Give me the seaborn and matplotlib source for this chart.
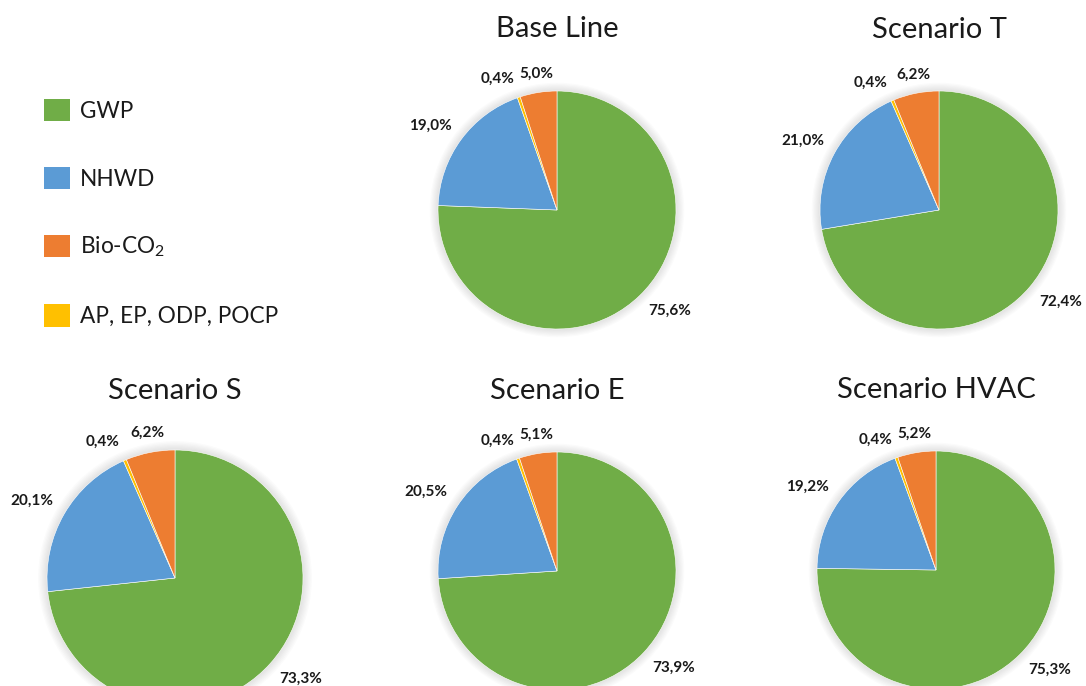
import matplotlib
matplotlib.use("Agg")
import matplotlib.pyplot as plt
from matplotlib.patches import Patch, Circle
import seaborn as sns

# Impact categories, listed clockwise from 12 o'clock in every pie
categories = ["GWP", "NHWD", "AP, EP, ODP, POCP", "Bio-CO2"]
legend_order = ["GWP", "NHWD", "Bio-CO2", "AP, EP, ODP, POCP"]
legend_texts = ["GWP", "NHWD", r"Bio-CO$_{\mathrm{2}}$", "AP, EP, ODP, POCP"]

scenarios = ["Base Line", "Scenario T", "Scenario S", "Scenario E", "Scenario HVAC"]
base_line = [75.6, 19.0, 0.4, 5.0]
scenario_t = [72.4, 21.0, 0.4, 6.2]
scenario_s = [73.3, 20.1, 0.4, 6.2]
scenario_e = [73.9, 20.5, 0.4, 5.1]
scenario_hvac = [75.3, 19.2, 0.4, 5.2]
shares = [base_line, scenario_t, scenario_s, scenario_e, scenario_hvac]

colors = {"GWP": "#70AD47", "NHWD": "#5B9BD5",
          "AP, EP, ODP, POCP": "#FFC000", "Bio-CO2": "#ED7D31"}

sns.set_theme(style="white")
plt.rcParams["font.family"] = ["Lato", "DejaVu Sans"]
plt.rcParams["mathtext.fontset"] = "custom"
plt.rcParams["mathtext.rm"] = "Lato"

W, H = 1086, 686
fig = plt.figure(figsize=(W / 100, H / 100), dpi=100)
fig.patch.set_facecolor("white")

# pie placement in pixels: (center x, center y from top, radius, title baseline y)
layout = [
    (557, 210, 119, 37),
    (939, 210, 119, 38),
    (175, 578, 128, 399),
    (557, 571, 119, 399),
    (936, 570, 119, 398),
]

K = 1.7  # half-size of each axes box in pie radii


def fmt(v):
    return f"{v:.1f}".replace(".", ",") + "%"


for name, vals, (cx, cy, r, ty) in zip(scenarios, shares, layout):
    half = K * r
    ax = fig.add_axes([(cx - half) / W, 1 - (cy + half) / H, 2 * half / W, 2 * half / H])

    # soft glow behind the disc
    for i in range(7):
        ax.add_patch(Circle((0, 0), 1 + 0.010 * (i + 1), facecolor="black",
                            edgecolor="none", alpha=0.014, zorder=0))

    wedges, texts = ax.pie(
        vals, colors=[colors[c] for c in categories], startangle=90,
        counterclock=False, radius=1, labels=[fmt(v) for v in vals],
        labeldistance=1.1, wedgeprops=dict(linewidth=0.4, edgecolor="white"),
        textprops=dict(fontsize=11, fontweight="bold", color="#1a1a1a"),
    )
    ax.set_xlim(-K, K)
    ax.set_ylim(-K, K)
    ax.set_aspect("equal")
    ax.set_axis_off()
    for t in texts:
        x, y = t.get_position()
        t.set_ha("left" if x > 0.3 else ("right" if x < -0.3 else "center"))
        t.set_va("bottom" if y > 0.3 else ("top" if y < -0.3 else "center"))

    fig.text(cx / W, 1 - ty / H, name, ha="center", va="baseline",
             fontsize=21, color="#1a1a1a")

handles = [Patch(facecolor=colors[c], edgecolor="none") for c in legend_order]
fig.legend(handles, legend_texts, loc="upper left",
           bbox_to_anchor=(44 / W, 1 - 99 / H), bbox_transform=fig.transFigure,
           frameon=False, fontsize=16.3, borderpad=0, borderaxespad=0,
           handlelength=1.15, handleheight=1.15, handletextpad=0.45,
           labelspacing=1.98, labelcolor="#1a1a1a")

fig.savefig("out.png", dpi=100, facecolor="white")
